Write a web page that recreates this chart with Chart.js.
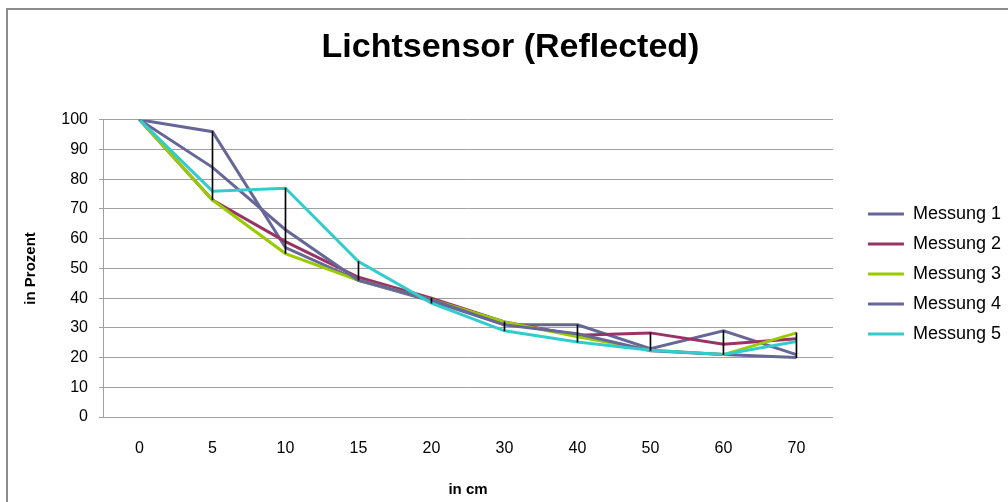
<!DOCTYPE html>
<html>
<head>
<meta charset="utf-8">
<script src="https://cdn.jsdelivr.net/npm/chart.js@4/dist/chart.umd.min.js"></script>
<style>
  html, body { margin: 0; padding: 0; background: #ffffff; }
  #wrap { position: relative; width: 1008px; height: 502px; }
</style>
</head>
<body>
<div id="wrap"><canvas id="c"></canvas></div>
<script>
// ---- data ----
const categories = ['0', '5', '10', '15', '20', '30', '40', '50', '60', '70'];
const seriesNames = ['Messung 1', 'Messung 2', 'Messung 3', 'Messung 4', 'Messung 5'];
const messung1 = [100, 96, 57, 46, 39, 31, 31, 23, 29, 21];
const messung2 = [100, 73, 59, 47, 40, 32, 27.5, 28.3, 24.5, 26.3];
const messung3 = [100, 73, 55, 46, 39.5, 32, 27, 22.5, 21, 28.3];
const messung4 = [100, 84, 63, 46, 39.5, 31, 28, 22.3, 21, 20];
const messung5 = [100, 76, 77, 52.3, 38.3, 29, 25.2, 22.5, 21, 25.4];
const yTicks = [0, 10, 20, 30, 40, 50, 60, 70, 80, 90, 100];

const allSeries = [messung1, messung2, messung3, messung4, messung5];
const colors = ['#666699', '#993366', '#99CC00', '#666699', '#33CCCC'];

// high-low lines (min..max across series per category)
const highLow = categories.map((_, i) => {
  const vals = allSeries.map(s => s[i]);
  return [Math.min(...vals), Math.max(...vals)];
});

Chart.defaults.font.family = '"Liberation Sans", Arial, sans-serif';
Chart.defaults.color = '#000';

const datasets = allSeries.map((s, i) => ({
  type: 'line',
  label: seriesNames[i],
  data: s,
  borderColor: colors[i],
  backgroundColor: colors[i],
  borderWidth: 3,
  pointRadius: 0,
  tension: 0,
  fill: false,
  order: 5 - i
}));
datasets.push({
  type: 'bar',
  label: 'highlow',
  data: highLow,
  backgroundColor: '#000',
  borderWidth: 0,
  barThickness: 1,
  order: 0
});

const frame = {
  id: 'frame',
  beforeDraw(chart) {
    const ctx = chart.ctx;
    ctx.save();
    ctx.strokeStyle = '#8c8c8c';
    ctx.lineWidth = 2;
    ctx.strokeRect(7, 9, 1200, 700);
    ctx.restore();
  }
};

new Chart(document.getElementById('c'), {
  data: { labels: categories, datasets },
  options: {
    responsive: true,
    maintainAspectRatio: false,
    animation: false,
    layout: { padding: { left: 10, right: -3, top: 10, bottom: 0 } },
    plugins: {
      title: {
        display: true,
        text: 'Lichtsensor (Reflected)',
        font: { size: 34, weight: 'bold' },
        color: '#000',
        padding: { top: 17, bottom: 52 }
      },
      legend: {
        position: 'right',
        fullSize: false,
        align: 'center',
        reverse: true,
        title: { display: true, text: ' ', font: { size: 6 }, padding: 2 },
        labels: {
          filter: (item) => item.text !== 'highlow',
          usePointStyle: true,
          pointStyle: 'line',
          pointStyleWidth: 36,
          padding: 12,
          font: { size: 18 },
          color: '#000'
        }
      },
      tooltip: { enabled: false }
    },
    scales: {
      x: {
        type: 'category',
        grid: { display: false, drawTicks: false },
        border: { display: true, color: '#a0a0a0' },
        ticks: { font: { size: 16 }, padding: 22, color: '#000' },
        title: { display: true, text: 'in cm', font: { size: 15, weight: 'bold' }, padding: { top: 0, bottom: 3 } },
        afterFit: (s) => { s.height = 85; }
      },
      y: {
        type: 'linear',
        position: 'left',
        min: 0,
        max: 100,
        afterBuildTicks: (s) => { s.ticks = yTicks.map(v => ({ value: v })); },
        grid: { color: '#a0a0a0', lineWidth: 1, tickLength: 4 },
        border: { display: true, color: '#a0a0a0' },
        ticks: { font: { size: 16 }, padding: 11, color: '#000' },
        title: { display: true, text: 'in Prozent', font: { size: 15, weight: 'bold' }, padding: { top: 12, bottom: 0 } },
        afterFit: (s) => { s.width = 93; }
      },
      yR: {
        type: 'linear',
        position: 'right',
        display: true,
        grid: { display: false, drawTicks: false },
        border: { display: false },
        ticks: { display: false },
        afterFit: (s) => { s.width = 23; }
      }
    }
  },
  plugins: [frame]
});
</script>
</body>
</html>
